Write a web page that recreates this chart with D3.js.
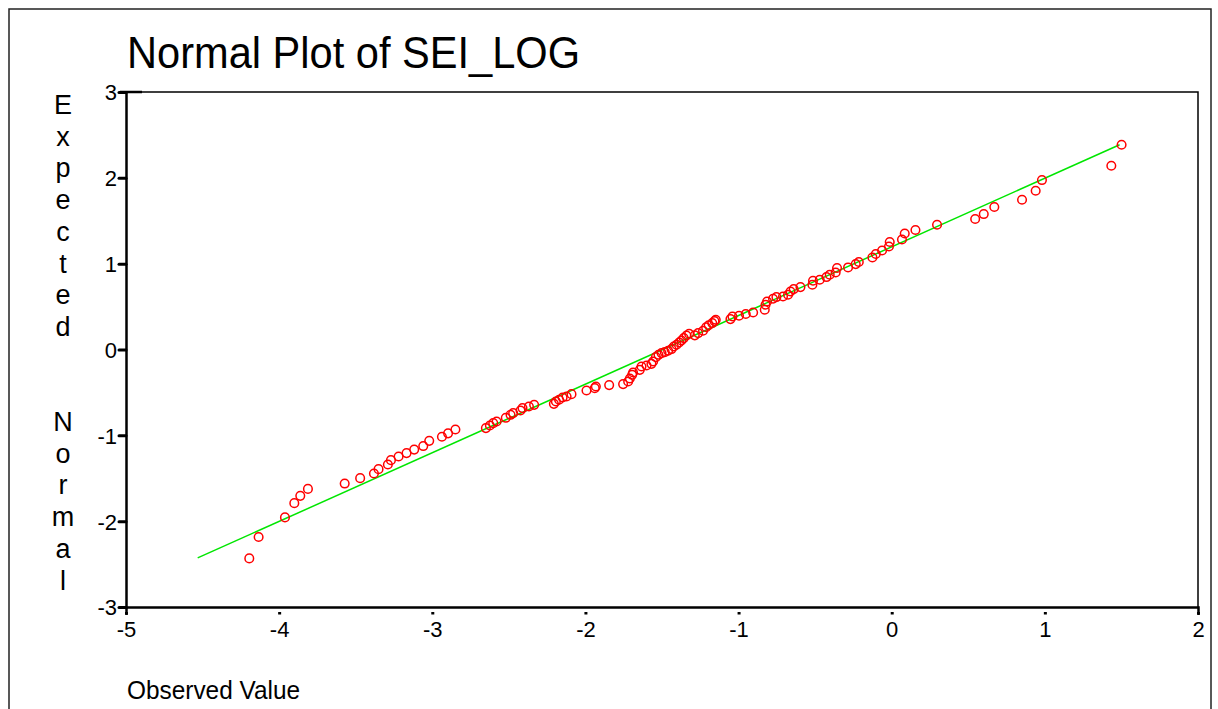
<!DOCTYPE html>
<html>
<head>
<meta charset="utf-8">
<script src="https://cdn.jsdelivr.net/npm/d3@7"></script>
<style>
  body { margin: 0; background: #fff; }
  svg text { font-family: Arial, "Liberation Sans", sans-serif; fill: #000; }
</style>
</head>
<body>
<script>
var observed = [-4.195, -4.134, -3.962, -3.901, -3.862, -3.812, -3.572, -3.471, -3.381, -3.351,
  -3.290, -3.270, -3.220, -3.168, -3.118, -3.059, -3.020, -2.937, -2.897, -2.849,
  -2.650, -2.624, -2.602, -2.580, -2.520, -2.489, -2.472, -2.424, -2.411, -2.369,
  -2.335, -2.206, -2.193, -2.172, -2.149, -2.123, -2.091, -1.993, -1.939, -1.932,
  -1.845, -1.754, -1.721, -1.710, -1.695, -1.689, -1.645, -1.634, -1.601, -1.569,
  -1.558, -1.540, -1.523, -1.503, -1.482, -1.460, -1.438, -1.423, -1.405, -1.388,
  -1.373, -1.358, -1.340, -1.323, -1.286, -1.264, -1.232, -1.212, -1.195, -1.172,
  -1.157, -1.149, -1.053, -1.040, -0.997, -0.953, -0.905, -0.829, -0.824, -0.814,
  -0.775, -0.753, -0.710, -0.677, -0.661, -0.640, -0.596, -0.518, -0.514, -0.470,
  -0.426, -0.405, -0.366, -0.357, -0.285, -0.235, -0.215, -0.126, -0.104, -0.063,
  -0.018, -0.013, 0.067, 0.085, 0.155, 0.296, 0.545, 0.601, 0.670, 0.851,
  0.940, 0.981, 1.434, 1.501];
var expected = [-2.434, -2.185, -1.956, -1.790, -1.705, -1.624, -1.562, -1.499, -1.445, -1.394,
  -1.340, -1.289, -1.247, -1.207, -1.166, -1.125, -1.064, -1.017, -0.977, -0.932,
  -0.916, -0.886, -0.858, -0.839, -0.796, -0.761, -0.741, -0.711, -0.683, -0.664,
  -0.645, -0.633, -0.606, -0.586, -0.559, -0.548, -0.520, -0.478, -0.450, -0.431,
  -0.415, -0.403, -0.373, -0.338, -0.295, -0.268, -0.237, -0.198, -0.187, -0.167,
  -0.140, -0.089, -0.062, -0.042, -0.030, -0.015, 0.005, 0.035, 0.055, 0.082,
  0.105, 0.133, 0.163, 0.183, 0.165, 0.191, 0.218, 0.259, 0.282, 0.308,
  0.331, 0.346, 0.354, 0.385, 0.393, 0.413, 0.431, 0.463, 0.521, 0.559,
  0.591, 0.611, 0.618, 0.638, 0.676, 0.704, 0.727, 0.754, 0.801, 0.812,
  0.844, 0.871, 0.897, 0.949, 0.956, 0.995, 1.019, 1.072, 1.112, 1.154,
  1.200, 1.252, 1.282, 1.352, 1.392, 1.453, 1.520, 1.578, 1.660, 1.745,
  1.850, 1.974, 2.141, 2.386];
// reference line end points
var lineX = [-4.532, 1.488];
var lineY = [-2.428, 2.386];
var xTicks = [-5, -4, -3, -2, -1, 0, 1, 2];
var yTicks = [-3, -2, -1, 0, 1, 2, 3];
var yLabel = "Expected  Normal";

var W = 1218, H = 709;
var plot = {left: 126, right: 1198, top: 92, bottom: 607};

// plain hyphen for negatives, like the original
function fmt(d) { return String(d); }

var svg = d3.select("body").append("svg")
            .attr("width", W)
            .attr("height", H);

// outer frame
svg.append("rect")
   .attr("x", 9).attr("y", 9)
   .attr("width", 1202).attr("height", 740)
   .attr("fill", "none")
   .attr("stroke", "#222")
   .attr("stroke-width", 1.5);

var x = d3.scaleLinear().domain([-5, 2]).range([plot.left, plot.right]);
var y = d3.scaleLinear().domain([-3, 3]).range([plot.bottom, plot.top]);

// plot box (top and right edges)
svg.append("path")
   .attr("d", "M" + plot.left + "," + plot.top + "H" + plot.right + "V" + plot.bottom)
   .attr("fill", "none")
   .attr("stroke", "#000")
   .attr("stroke-width", 1.5);

// y axis
var yAxis = d3.axisLeft(y).tickValues(yTicks).tickSize(7).tickPadding(2)
              .tickFormat(fmt);
var gy = svg.append("g")
   .attr("transform", "translate(" + plot.left + ",0)")
   .call(yAxis);
gy.select(".domain").attr("stroke", "#000").attr("stroke-width", 2.5);
gy.selectAll(".tick line").attr("stroke-width", 3).attr("stroke-linecap", "round");
gy.selectAll(".tick text").style("font-size", "22px").attr("dy", "0.36em");

// x axis, ticks drawn as small dots just under the line
var xAxis = d3.axisBottom(x).tickValues(xTicks).tickSize(8).tickPadding(6)
              .tickFormat(fmt);
var gx = svg.append("g")
   .attr("transform", "translate(0," + plot.bottom + ")")
   .call(xAxis);
gx.select(".domain").attr("stroke", "#000").attr("stroke-width", 2.5);
gx.selectAll(".tick line").attr("stroke-width", 3).attr("stroke-dasharray", "0,5,2.5,100");
gx.selectAll(".tick text").style("font-size", "22px");

// short top extension at "3"
svg.append("line")
   .attr("x1", plot.left - 6).attr("x2", plot.left + 16)
   .attr("y1", y(3)).attr("y2", y(3))
   .attr("stroke", "#000").attr("stroke-width", 2.5);

// fitted line
svg.append("line")
   .attr("x1", x(lineX[0])).attr("y1", y(lineY[0]))
   .attr("x2", x(lineX[1])).attr("y2", y(lineY[1]))
   .attr("stroke", "#00e600")
   .attr("stroke-width", 1.5);

// points
svg.append("g")
   .selectAll("circle")
   .data(observed)
   .enter().append("circle")
   .attr("cx", function(d) { return x(d); })
   .attr("cy", function(d, i) { return y(expected[i]); })
   .attr("r", 4.3)
   .attr("fill", "none")
   .attr("stroke", "#ff0000")
   .attr("stroke-width", 1.5);

// title
svg.append("text")
   .attr("x", 127).attr("y", 68)
   .attr("textLength", 453)
   .attr("lengthAdjust", "spacingAndGlyphs")
   .style("font-size", "44px")
   .text("Normal Plot of SEI_LOG");

// vertical stacked y label
svg.append("g")
   .selectAll("text")
   .data(yLabel.split(""))
   .enter().append("text")
   .attr("x", 63)
   .attr("y", function(d, i) { return 114 + i * 31.7; })
   .attr("text-anchor", "middle")
   .style("font-size", "27px")
   .text(function(d) { return d; });

// x label
svg.append("text")
   .attr("x", 127).attr("y", 699)
   .style("font-size", "26px")
   .attr("textLength", 173)
   .attr("lengthAdjust", "spacingAndGlyphs")
   .text("Observed Value");
</script>
</body>
</html>
